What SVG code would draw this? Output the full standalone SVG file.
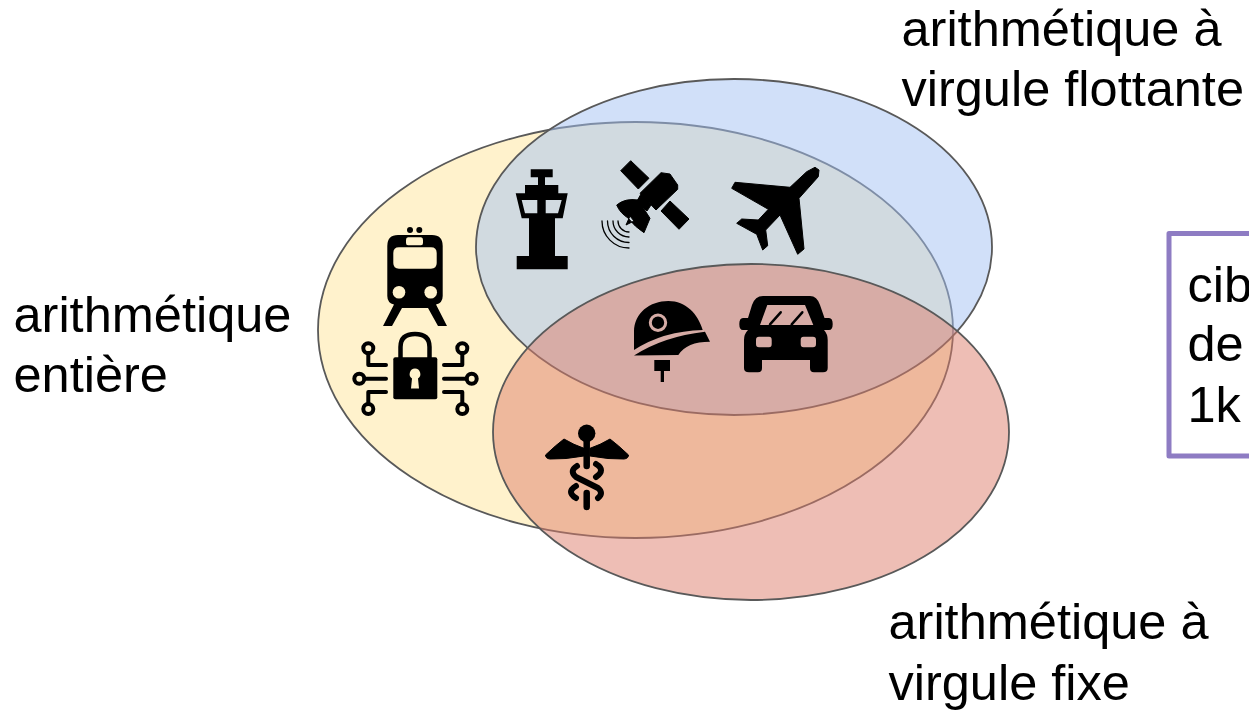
<svg xmlns="http://www.w3.org/2000/svg" width="1249" height="710" viewBox="0 0 1249 710">
<style>
text{font-family:"Liberation Sans",Arial,sans-serif;font-size:50.5px;fill:#000}
.e{stroke:#595959;stroke-width:1.8;fill-opacity:.5}
.k{fill:#000}
.b{fill:#000;stroke:#000;stroke-width:1;stroke-linejoin:round}
.s{fill:none;stroke:#000;stroke-linecap:round;stroke-linejoin:round}
</style>
<rect width="1249" height="710" fill="#fff"/>
<g id="ellipse-entiere"><ellipse class="e" cx="635.500" cy="330" rx="317.500" ry="208" fill="#ffe599"/></g>
<g id="ellipse-flottante"><ellipse class="e" cx="734" cy="247" rx="258" ry="168" fill="#a4c2f4"/></g>
<g id="ellipse-fixe"><ellipse class="e" cx="751" cy="432" rx="258" ry="168" fill="#dd7e6b"/></g>
<g id="label-flottante"><text x="901.500" y="46">arithmétique à</text><text x="901.500" y="105.500">virgule flottante</text></g>
<g id="label-entiere"><text x="13.500" y="331.500">arithmétique</text><text x="13.500" y="392">entière</text></g>
<g id="label-fixe"><text x="888.500" y="638.500">arithmétique à</text><text x="888.500" y="699.500">virgule fixe</text></g>
<g id="box-cible"><path d="M1260 233.500H1169V456H1260" fill="#fff" stroke="#8e7cc3" stroke-width="5" stroke-linejoin="round"/><text x="1187.500" y="301.500">cib</text><text x="1187.500" y="361">de</text><text x="1187.500" y="422">1k</text></g>
<g id="icon-train">
<circle class="k" cx="410" cy="230" r="3"/><circle class="k" cx="419.300" cy="230" r="3"/>
<path class="k" fill-rule="evenodd" d="M398 235H432Q442.700 235 442.700 246V296Q442.700 303 436 304.500L447 326H438L428 308H402L392 326H383L394 304.500Q387.300 303 387.300 296V246Q387.300 235 398 235ZM408 237.300Q406 237.300 406 240V243Q406 245.300 408 245.300H421Q423 245.300 423 243V240Q423 237.300 421 237.300ZM399 247.300Q393.300 247.300 393.300 253V263Q393.300 268.700 399 268.700H431Q436.700 268.700 436.700 263V253Q436.700 247.300 431 247.300Z"/>
<circle cx="399" cy="292.300" r="6.300" fill="#fff2cc"/><circle cx="430.700" cy="292.300" r="6.300" fill="#fff2cc"/>
</g>
<g id="icon-lock">
<path class="s" stroke-width="4.500" d="M400.500 358V347Q400.500 334 415 334Q429.500 334 429.500 347V358"/>
<rect class="k" x="393.300" y="357.300" width="44" height="42" rx="2"/>
<path d="M415 368.500a5.500 5.500 0 0 1 3 10l1 10h-8l1-10a5.500 5.500 0 0 1 3-10z" fill="#fff2cc"/>
<g class="s" stroke-width="4"><circle cx="359.300" cy="378.700" r="5"/><circle cx="368.300" cy="348.300" r="5"/><circle cx="368.300" cy="409" r="5"/><circle cx="471.700" cy="378.700" r="5"/><circle cx="462.300" cy="348.300" r="5"/><circle cx="462.300" cy="409" r="5"/>
<path d="M364.500 378.700H386M368.300 353V365H386M368.300 404V392H386M444 378.700H466.500M462.300 353V365H444M462.300 404V392H444"/></g>
</g>
<g id="icon-tower">
<path class="k" fill-rule="evenodd" d="M530.700 169.300H552.700V177.300H545V185H558.300V193.300H567.700L562.700 218.300H555V256H567.700V269.300H516.700V256H529V218.300H521.700L515.700 193.300H525V185H538V177.300H530.700ZM521.700 200L525 213.300H537.300V200ZM545.700 200V213.300H558L561.700 200Z"/>
</g>
<g id="icon-satellite">
<path class="b" d="M630.700 160.700L649 178.300L638.300 189L620.700 170.700ZM670 201L689 219L679 229.300L661 211ZM661 172.700L670 174L677.700 185L677.700 189.300L656 210L640 193.300ZM641 194L651 205L647 211L637 201ZM616.700 205Q625 198 638.300 200L650 218.300L644 232.700Q635 227 628 218Q620 213 616.700 205ZM630 216L626 225L634 221Z"/>
<g class="s" stroke-width="1.300"><path d="M602 221A27 27 0 0 0 629 248"/><path d="M607.500 221A21.500 21.500 0 0 0 629 242.500"/><path d="M613 221A16 16 0 0 0 629 237"/><path d="M618 221A11 11 0 0 0 629 232"/></g>
</g>
<g id="icon-plane">
<path class="b" d="M806.700 171.700L790 187.300L735 182.300L731.700 188.300L768.300 209.300L758.300 220L741.700 219L736.700 223.300L756.700 234.300L762.700 250L767.700 245.700L765.700 230L780 215L797.700 254.300L804 249L799 198.300L818.300 176.700L819 170L815 167.300Z"/>
</g>
<g id="icon-helmet">
<path class="k" d="M634 350V331.700C634 313 650 301 668.300 301C686 301 698 314 702.700 330Q663.300 331 634 350Z"/>
<path class="k" d="M634 355.500Q663.300 336.500 705 331.700L710 341.700Q686.700 341.700 678.300 355ZM654.300 360H670V371H664V382H660.700V371H654.300Z"/>
<circle cx="658" cy="322.700" r="7.700" fill="none" stroke="#d6aca6" stroke-width="3"/>
</g>
<g id="icon-car">
<path class="k" fill-rule="evenodd" d="M763 296H810Q817 296 820 305L824.500 318H829Q832.700 318 832.700 324Q832.700 330 829 330H824Q827.700 334 827.700 340V368Q827.700 372.300 823 372.300H814Q810 372.300 810 368V360H762V368Q762 372.300 758 372.300H749Q744 372.300 744 368V340Q744 334 748 330H743Q739.300 330 739.300 324Q739.300 318 743 318H748L752 305Q755 296 763 296ZM767.300 305L760 325H813.300L805 305ZM759 336.700Q756 336.700 756 340V344Q756 347.300 759 347.300H769Q771.700 347.300 771.700 344V340Q771.700 336.700 769 336.700ZM803.500 336.700Q800.700 336.700 800.700 340V344Q800.700 347.300 803.500 347.300H813Q816 347.300 816 344V340Q816 336.700 813 336.700Z"/>
<path class="s" stroke-width="2.500" d="M770 324.300L780.700 312.300M791.700 324.300L802.300 312.300"/>
</g>
<g id="icon-caduceus">
<circle class="k" cx="586.700" cy="433.300" r="8.700"/>
<path class="b" d="M545.500 455Q556 445 564 439Q574 445 584 448.300V456Q565 459.500 550 459Q545.500 458.500 545.500 455ZM628.500 455Q618 445 610 439Q600 445 590 448.300V456Q609 459.500 624 459Q628.500 458.500 628.500 455Z"/>
<path class="s" stroke-width="6.500" d="M586.700 440V466M586.700 493V507"/>
<path class="s" stroke-width="6" d="M577 466Q569 471 576 477L598 488Q604 493 598 498M596 464Q606 470 596 477M576 486Q566 492 576 498"/>
</g>
</svg>
